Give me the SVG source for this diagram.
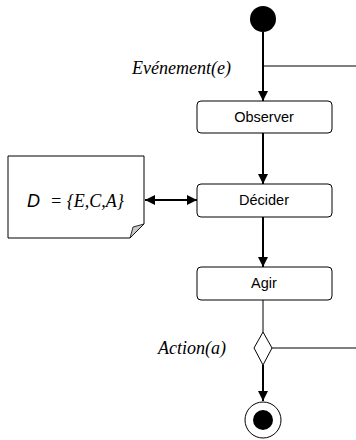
<svg xmlns="http://www.w3.org/2000/svg" width="356" height="440" viewBox="0 0 356 440">
<style>
.box{fill:#fff;stroke:#000;stroke-width:1}
.lbl{font-family:"Liberation Sans",Arial,sans-serif;font-size:14.5px;text-anchor:middle}
.it{font-family:"Liberation Serif","Times New Roman",serif;font-style:italic;font-size:18px}
.thick{stroke:#000;stroke-width:2;fill:none}
.thin{stroke:#000;stroke-width:1;fill:none}
</style>
<defs>
<marker id="ah" markerWidth="10" markerHeight="10" refX="10" refY="5" orient="auto" markerUnits="userSpaceOnUse">
<path d="M0,0 L10,5 L0,10 Z" fill="#000"/>
</marker>
<marker id="ahs" markerWidth="10" markerHeight="10" refX="0" refY="5" orient="auto" markerUnits="userSpaceOnUse">
<path d="M10,0 L0,5 L10,10 Z" fill="#000"/>
</marker>
</defs>
<g id="connectors">
<line class="thick" x1="263" y1="32" x2="263" y2="101" marker-end="url(#ah)"/>
<line class="thin" x1="263" y1="66" x2="356" y2="66"/>
<line class="thick" x1="263" y1="133" x2="263" y2="184" marker-end="url(#ah)"/>
<line class="thick" x1="263" y1="217" x2="263" y2="267" marker-end="url(#ah)"/>
<line class="thin" x1="263" y1="300" x2="263" y2="332"/>
<line class="thin" x1="272" y1="348" x2="356" y2="348"/>
<line class="thick" x1="263" y1="365" x2="263" y2="401" marker-end="url(#ah)"/>
<line class="thick" x1="145" y1="200" x2="197" y2="200" marker-start="url(#ahs)" marker-end="url(#ah)"/>
</g>
<g id="start"><circle cx="263" cy="19" r="13" fill="#000"/></g>
<g id="evenement"><text class="it" x="132" y="74">Evénement(e)</text></g>
<g id="observer"><rect class="box" x="197" y="101" width="135" height="32" rx="4"/><text class="lbl" x="264" y="122">Observer</text></g>
<g id="decider"><rect class="box" x="197" y="184" width="135" height="33" rx="4"/><text class="lbl" x="264" y="205">Décider</text></g>
<g id="agir"><rect class="box" x="197" y="267" width="135" height="33" rx="4"/><text class="lbl" x="264" y="288">Agir</text></g>
<g id="note">
<path d="M8,156 L144,156 L144,224 L130,238 L8,238 Z" fill="#fff" stroke="#000" stroke-width="1"/>
<path d="M130,238 L133,227 L144,224 Z" fill="#c8c8c8" stroke="#000" stroke-width="0.8"/>
<text x="27" y="207" font-size="18"><tspan font-family="'Liberation Sans',Arial,sans-serif" font-style="italic">D</tspan><tspan x="50" font-family="'Liberation Serif','Times New Roman',serif" font-style="italic">= {E,C,A}</tspan></text>
</g>
<g id="decision"><path d="M263,332 L272,348 L263,365 L254,348 Z" fill="#fff" stroke="#000" stroke-width="1"/></g>
<g id="action"><text class="it" x="158" y="354">Action(a)</text></g>
<g id="end"><circle cx="263" cy="420" r="18" fill="#fff" stroke="#000" stroke-width="1"/><circle cx="263" cy="420" r="10" fill="#000"/></g>
</svg>
